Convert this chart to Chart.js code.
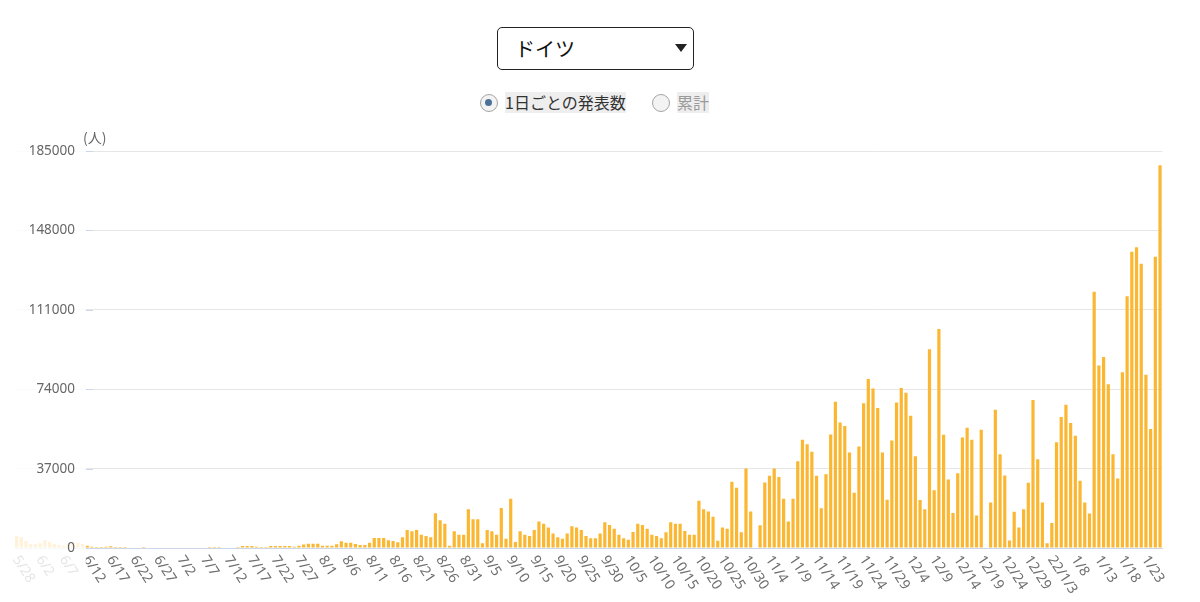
<!DOCTYPE html>
<html lang="ja">
<head>
<meta charset="utf-8">
<title>ドイツ</title>
<script src="https://cdn.jsdelivr.net/npm/chart.js@4.4.1/dist/chart.umd.min.js"></script>
<style>
	body{margin:0;background:#fff;width:1200px;height:602px;overflow:hidden;position:relative;font-family:"Noto Sans CJK JP","Noto Sans",sans-serif;}
	#pais{position:absolute;left:497px;top:27px;width:197px;height:43px;box-sizing:border-box;border:1.5px solid #222;border-radius:5px;}
	#pais span{position:absolute;left:17px;top:6px;font-size:20px;color:#111;}
	#pais i{position:absolute;left:177px;top:16px;width:0;height:0;border-left:6.5px solid transparent;border-right:6.5px solid transparent;border-top:8px solid #222;}
	.radio{position:absolute;top:94px;width:18px;height:18px;box-sizing:border-box;border:1.5px solid #a5a5a5;border-radius:50%;background:#f3f3f3;}
	.radio b{position:absolute;left:4px;top:4px;width:7px;height:7px;border-radius:50%;background:#4b7198;}
	.rotulo{position:absolute;top:92px;font-size:16px;line-height:21px;background:#eee;}
	#grafico{position:absolute;left:0;top:120px;width:1200px;height:482px;}
</style>
</head>
<body>
<div id="pais"><span>ドイツ</span><i></i></div>
<div class="radio" style="left:480px"><b></b></div>
<div class="rotulo" style="left:505px;color:#333">1日ごとの発表数</div>
<div class="radio" style="left:652px"></div>
<div class="rotulo" style="left:677px;color:#9a9a9a">累計</div>
<div id="grafico"><canvas id="graficoDiario"></canvas></div>
<script>
// casos por dia (2021/5/28 - 2022/1/26), um array por mes
var maio = [5600, 5100, 3300, 1900];
var junho = [1700, 2200, 3600, 2800, 1900, 1400, 1100, 1800, 2600, 2300, 2000, 1100, 600, 500, 500, 600, 800, 500, 500, 500,
	0, 0, 0, 500, 0, 0, 0, 0, 0, 0];
var julho = [0, 0, 0, 0, 0, 0, 0, 500, 500, 500, 0, 0, 0, 500, 900, 900, 900, 600, 500, 500, 900, 900, 900, 900, 900, 600,
	1100, 1600, 2000, 2000, 2000];
var agosto = [1100, 1100, 1100, 1700, 3100, 2500, 2500, 1900, 1400, 1400, 2500, 4700, 4700, 4700, 3600, 3300, 2700, 5000,
	8400, 7800, 8400, 6200, 5600, 5000, 16200, 12900, 11300, 1100, 7800, 6200, 6200];
var setembro = [18000, 13400, 13400, 2200, 8400, 7800, 6200, 18600, 4300, 23000, 2800, 7800, 6200, 5600, 8400, 12400, 11300,
	9600, 6800, 5000, 4300, 6800, 10100, 9600, 8400, 5600, 4500, 4500, 6800, 12000];
var outubro = [10700, 9000, 6200, 4500, 3900, 7500, 11300, 10700, 9000, 6200, 5600, 4500, 7300, 12000, 11300, 11300, 7900,
	6200, 6200, 22000, 18000, 17000, 14600, 3400, 9500, 9000, 30900, 28100, 7300, 37000, 17000];
var novembro = [0, 10600, 30500, 33700, 37000, 33100, 23000, 12400, 23000, 40400, 50500, 48400, 44900, 33700, 18500, 34400,
	52900, 68100, 58500, 56800, 44500, 25800, 47300, 67500, 78700, 74300, 65200, 44500, 22500, 50100];
var dezembro = [67800, 74600, 72400, 61600, 42700, 22400, 18000, 92600, 26900, 102000, 52800, 31900, 16300, 34800, 51500,
	56000, 50500, 15200, 55100, 0, 21200, 64400, 43700, 33800, 3500, 16900, 9600, 18000, 30400, 69000, 41400];
var janeiro = [21200, 2200, 11600, 49300, 61100, 66700, 58300, 52300, 31300, 21200, 16100, 119400, 85100, 89000, 76300,
	43700, 32400, 81900, 117300, 138000, 140200, 132500, 80700, 55500, 135700, 178400];

// rotulos do eixo x (um a cada 5 dias)
var rotulosX = ['5/28', '6/2', '6/7', '6/12', '6/17', '6/22', '6/27', '7/2', '7/7', '7/12', '7/17', '7/22', '7/27',
	'8/1', '8/6', '8/11', '8/16', '8/21', '8/26', '8/31', '9/5', '9/10', '9/15', '9/20', '9/25', '9/30',
	'10/5', '10/10', '10/15', '10/20', '10/25', '10/30', '11/4', '11/9', '11/14', '11/19', '11/24', '11/29',
	'12/4', '12/9', '12/14', '12/19', '12/24', '12/29', '22/1/3', '1/8', '1/13', '1/18', '1/23'];
var rotulosY = [0, 37000, 74000, 111000, 148000, 185000];
var unidade = '(人)';

var serie = [].concat(maio, junho, julho, agosto, setembro, outubro, novembro, dezembro, janeiro);

var dias = [];
var d = new Date(2021, 4, 28);
for (var i = 0; i < serie.length; i++) {
	dias.push((d.getMonth() + 1) + '/' + d.getDate());
	d.setDate(d.getDate() + 1);
}

var corBarra = '#fbb731';
var corTexto = '#666';

// desenha rotulos inclinados, a faixa branca do eixo y e os valores
var eixos = {
	id: 'eixos',
	afterDraw: function (chart) {
		var ctx = chart.ctx;
		var x = chart.scales.x;
		var y = chart.scales.y;
		var area = chart.chartArea;

		ctx.save();
		ctx.font = '14px "Noto Sans", sans-serif';
		ctx.fillStyle = '#6e6e6e';
		ctx.textAlign = 'left';
		ctx.textBaseline = 'middle';
		for (var k = 0; k < rotulosX.length; k++) {
			var px = x.getPixelForValue(k * 5);
			ctx.save();
			ctx.translate(px - 1, area.bottom + 9);
			ctx.rotate(57 * Math.PI / 180);
			ctx.fillText(rotulosX[k], 0, 0);
			ctx.restore();
		}

		ctx.fillStyle = 'rgba(255,255,255,0.82)';
		ctx.fillRect(0, 0, 86, chart.height);

		ctx.strokeStyle = '#ccd6eb';
		ctx.lineWidth = 1;
		ctx.fillStyle = corTexto;
		ctx.textAlign = 'right';
		ctx.font = '13.5px "Noto Sans", sans-serif';
		for (var j = 0; j < rotulosY.length; j++) {
			var py = Math.round(y.getPixelForValue(rotulosY[j])) + 0.5;
			ctx.fillText(String(rotulosY[j]), 75, py);
			ctx.beginPath();
			ctx.moveTo(86, py);
			ctx.lineTo(93, py);
			ctx.stroke();
		}

		ctx.textAlign = 'left';
		ctx.font = '14px "Noto Sans CJK JP", sans-serif';
		ctx.fillText(unidade, 83, area.top - 13);
		ctx.restore();
	}
};

var grafico = new Chart(document.getElementById('graficoDiario'), {
	type: 'bar',
	data: {
		labels: dias,
		datasets: [{
			data: serie,
			backgroundColor: corBarra,
			borderWidth: 0,
			barPercentage: 0.68,
			categoryPercentage: 1
		}]
	},
	options: {
		responsive: true,
		maintainAspectRatio: false,
		animation: false,
		events: [],
		layout: { padding: { top: 31, left: 14.3, right: 37.6, bottom: 0 } },
		plugins: { legend: { display: false }, tooltip: { enabled: false } },
		scales: {
			x: {
				grid: { display: false },
				border: { display: true, color: '#ccd6eb', width: 1 },
				ticks: { display: false },
				afterFit: function (s) { s.height = 54; }
			},
			y: {
				min: 0,
				max: 185000,
				ticks: { stepSize: 37000, display: false },
				grid: {
					drawTicks: false,
					color: function (c) { return c.tick && c.tick.value === 0 ? 'rgba(0,0,0,0)' : '#e6e6e6'; }
				},
				border: { display: false },
				afterFit: function (s) { s.width = 0; }
			}
		}
	},
	plugins: [eixos]
});
</script>
</body>
</html>
